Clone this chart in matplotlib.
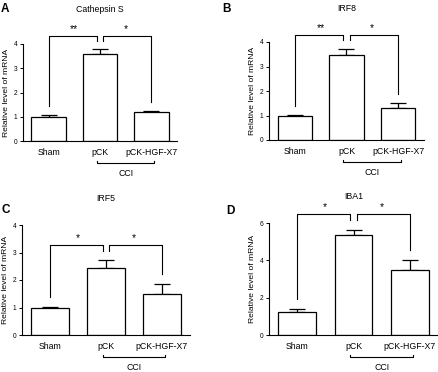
import matplotlib
matplotlib.use('Agg')
import matplotlib.pyplot as plt
import matplotlib.transforms as mtransforms

plt.rcParams['font.family'] = ['Liberation Sans', 'DejaVu Sans']

categories = ['Sham', 'pCK', 'pCK-HGF-X7']
group_label = 'CCI'
panel_letters = ['A', 'B', 'C', 'D']
titles = ['Cathepsin S', 'IRF8', 'IRF5', 'IBA1']

cathepsin_mean = [0.99, 3.59, 1.20]
cathepsin_err = [0.10, 0.19, 0.04]
irf8_mean = [1.00, 3.46, 1.31]
irf8_err = [0.01, 0.27, 0.19]
irf5_mean = [1.00, 2.44, 1.49]
irf5_err = [0.03, 0.27, 0.38]
iba1_mean = [1.24, 5.34, 3.47]
iba1_err = [0.17, 0.30, 0.54]

stars = [('**', '*'), ('**', '*'), ('*', '*'), ('*', '*')]
y_max = [4, 4, 4, 6]
y_step = [1, 1, 1, 2]

means = [cathepsin_mean, irf8_mean, irf5_mean, iba1_mean]
errs = [cathepsin_err, irf8_err, irf5_err, iba1_err]

W, H = 439, 372
# axes boxes in pixels: left, right, top, bottom
boxes = [(23, 177, 44, 141), (269, 424, 42, 140),
         (22, 190, 225, 335), (269, 438, 223, 335)]
title_pads = [23, 22, 17, 17]
letter_pos = [(1, 3), (222, 3), (2, 204), (226, 205)]

fig = plt.figure(figsize=(W / 100, H / 100), dpi=100)

for i in range(4):
    l, r, t, b = boxes[i]
    ax = fig.add_axes([l / W, 1 - b / H, (r - l) / W, (b - t) / H])
    x = list(range(len(categories)))
    m = means[i]
    e = errs[i]
    ymax = y_max[i]

    ax.bar(x, m, width=0.67, color='white', edgecolor='black', linewidth=0.9, zorder=2)
    ax.errorbar(x, m, yerr=[[0] * 3, e], fmt='none', ecolor='black',
                elinewidth=0.9, capsize=6, capthick=0.9, zorder=1)

    ax.set_xlim(-0.5, 2.5)
    ax.set_ylim(0, ymax)
    ax.set_yticks(range(0, ymax + 1, y_step[i]))
    ax.set_xticks(x)
    ax.set_xticklabels(categories, fontsize=6.3)
    ax.tick_params(axis='x', length=0, pad=5)
    ax.tick_params(axis='y', length=2, width=0.7, labelsize=4.8, pad=2, direction='out')
    for s in ['top', 'right']:
        ax.spines[s].set_visible(False)
    for s in ['left', 'bottom']:
        ax.spines[s].set_linewidth(0.8)
    ax.set_ylabel('Relative level of mRNA', fontsize=6.1, labelpad=3)
    ax.set_title(titles[i], fontsize=6.3, pad=title_pads[i])

    # significance brackets
    tops = [m[k] + e[k] for k in range(3)]
    hb = max(tops) + 0.14 * ymax
    leg_gap = 0.09 * ymax
    g = 0.06
    lw = 0.8
    ax.plot([0, 0, 1 - g, 1 - g], [tops[0] + leg_gap, hb, hb, max(tops) + leg_gap],
            color='black', lw=lw, clip_on=False)
    ax.plot([1 + g, 1 + g, 2, 2], [max(tops) + leg_gap, hb, hb, tops[2] + leg_gap],
            color='black', lw=lw, clip_on=False)
    ax.text(0.5, hb + 0.02 * ymax, stars[i][0], ha='center', va='bottom', fontsize=7.5)
    ax.text(1.5, hb + 0.02 * ymax, stars[i][1], ha='center', va='bottom', fontsize=7.5)

    # CCI group bracket below tick labels
    tr = ax.get_xaxis_transform() + mtransforms.ScaledTranslation(0, -22 / 100, fig.dpi_scale_trans)
    up = 2.5 / (b - t)
    ax.plot([1 - g, 1 - g, 2 + g, 2 + g], [up, 0, 0, up], color='black', lw=0.8,
            transform=tr, clip_on=False)
    tr2 = ax.get_xaxis_transform() + mtransforms.ScaledTranslation(0, -28 / 100, fig.dpi_scale_trans)
    ax.text(1.5, 0, group_label, ha='center', va='top', fontsize=6.3, transform=tr2)

    lx, ly = letter_pos[i]
    fig.text(lx / W, 1 - ly / H, panel_letters[i], fontsize=8.5, fontweight='bold',
             ha='left', va='top')

fig.savefig('out.png', dpi=100)
